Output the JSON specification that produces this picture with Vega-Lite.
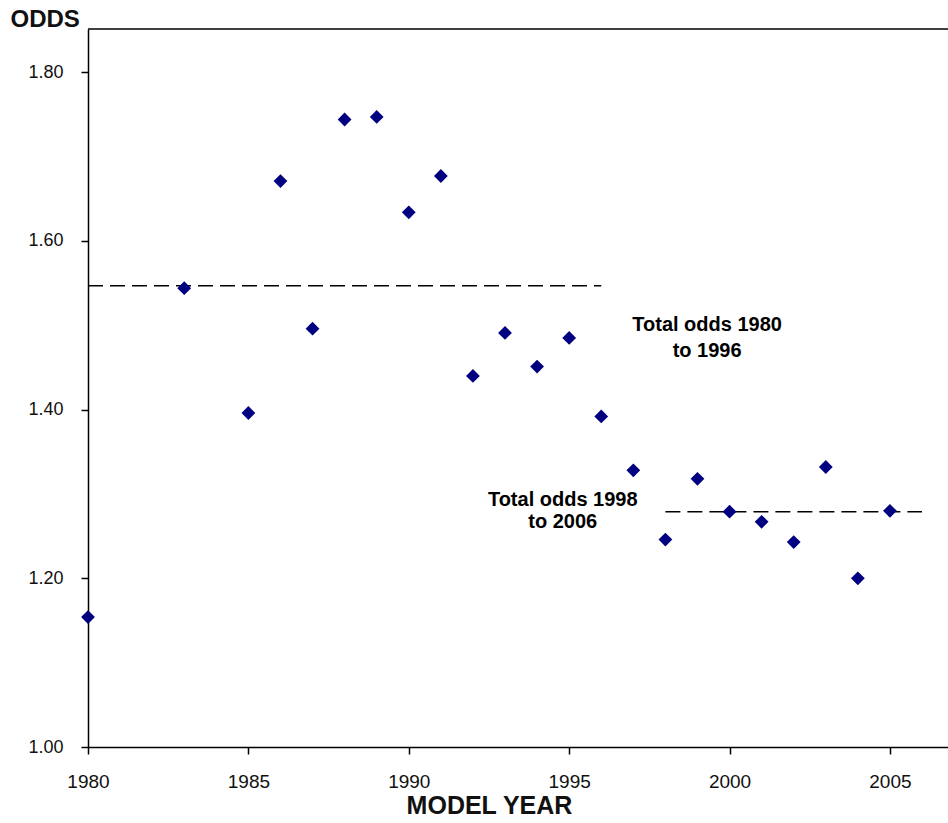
{
  "$schema": "https://vega.github.io/schema/vega-lite/v6.json",
  "autosize": {"type": "none"},
  "padding": {"left": 88, "top": 29, "right": 0, "bottom": 76},
  "width": 860,
  "height": 718,
  "background": "white",
  "config": {
    "view": {"stroke": null},
    "font": "Liberation Sans",
    "axis": {"grid": false, "domainColor": "black", "domainWidth": 1.5, "tickColor": "black", "tickWidth": 1.5, "labelColor": "#111", "labelFont": "Liberation Sans", "titleFont": "Liberation Sans", "titleColor": "#111", "labelFlush": false, "labelOverlap": false}
  },
  "layer": [
    {
      "data": {"values": [{"y": 1.8513}]},
      "mark": {"type": "rule", "color": "black", "strokeWidth": 1.5},
      "encoding": {"y": {"field": "y", "type": "quantitative"}}
    },
    {
      "data": {"values": [
        {"from": 1980, "to": 1996, "total": 1.547},
        {"from": 1998, "to": 2006, "total": 1.279}
      ]},
      "mark": {"type": "rule", "color": "black", "strokeWidth": 1.5, "strokeDash": [15, 7]},
      "encoding": {
        "x": {"field": "from", "type": "quantitative"},
        "x2": {"field": "to"},
        "y": {"field": "total", "type": "quantitative"}
      }
    },
    {
      "data": {"values": [
        {"year": 1980, "odds": 1.154},
        {"year": 1983, "odds": 1.544},
        {"year": 1985, "odds": 1.396},
        {"year": 1986, "odds": 1.671},
        {"year": 1987, "odds": 1.496},
        {"year": 1988, "odds": 1.744},
        {"year": 1989, "odds": 1.747},
        {"year": 1990, "odds": 1.634},
        {"year": 1991, "odds": 1.677},
        {"year": 1992, "odds": 1.440},
        {"year": 1993, "odds": 1.491},
        {"year": 1994, "odds": 1.451},
        {"year": 1995, "odds": 1.485},
        {"year": 1996, "odds": 1.392},
        {"year": 1997, "odds": 1.328},
        {"year": 1998, "odds": 1.246},
        {"year": 1999, "odds": 1.318},
        {"year": 2000, "odds": 1.279},
        {"year": 2001, "odds": 1.267},
        {"year": 2002, "odds": 1.243},
        {"year": 2003, "odds": 1.332},
        {"year": 2004, "odds": 1.200},
        {"year": 2005, "odds": 1.280}
      ]},
      "mark": {"type": "point", "shape": "diamond", "filled": true, "color": "#000080", "opacity": 1, "size": 190},
      "encoding": {
        "x": {
          "field": "year", "type": "quantitative",
          "scale": {"domain": [1980, 2006.81], "nice": false, "zero": false},
          "axis": {
            "values": [1980, 1985, 1990, 1995, 2000, 2005], "format": "d",
            "tickSize": 7, "labelPadding": 18, "labelFontSize": 19,
            "title": "MODEL YEAR", "titleFontSize": 25, "titleFontWeight": "bold",
            "titleX": 401, "titleY": 58, "titleBaseline": "middle", "titleAlign": "center"
          }
        },
        "y": {
          "field": "odds", "type": "quantitative",
          "scale": {"domain": [1.0, 1.8513], "nice": false, "zero": false},
          "axis": {
            "values": [1.0, 1.2, 1.4, 1.6, 1.8], "format": ".2f",
            "tickSize": 7, "labelPadding": 18, "labelFontSize": 18,
            "title": "ODDS", "titleAngle": 0, "titleFontSize": 24, "titleFontWeight": "bold",
            "titleX": -78, "titleY": -10, "titleAlign": "left", "titleBaseline": "middle"
          }
        }
      }
    },
    {
      "data": {"values": [
        {"xpos": 1999.3, "ypos": 1.500, "label": "Total odds 1980"},
        {"xpos": 1999.3, "ypos": 1.469, "label": "to 1996"},
        {"xpos": 1994.8, "ypos": 1.2926, "label": "Total odds 1998"},
        {"xpos": 1994.8, "ypos": 1.2665, "label": "to 2006"}
      ]},
      "mark": {"type": "text", "fontSize": 20, "fontWeight": "bold", "align": "center", "baseline": "middle", "color": "black"},
      "encoding": {
        "x": {"field": "xpos", "type": "quantitative"},
        "y": {"field": "ypos", "type": "quantitative"},
        "text": {"field": "label"}
      }
    }
  ]
}
